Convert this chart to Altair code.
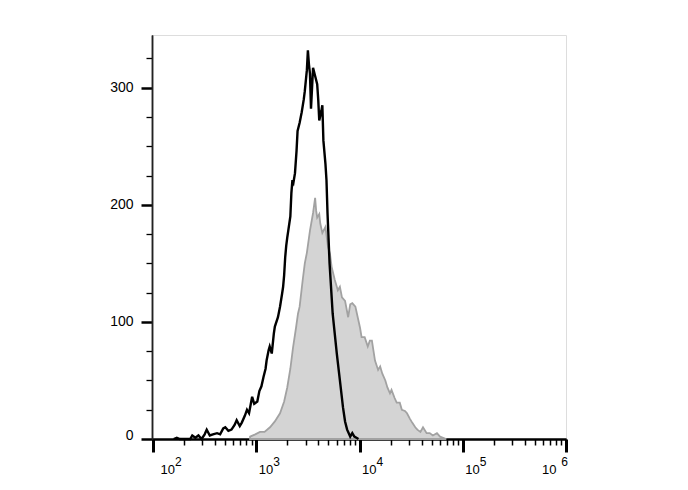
import altair as alt
import pandas as pd
import numpy as np

# Black (unfilled) histogram: x in log10(fluorescence) units, y = count
black_log = [2.20, 2.23, 2.26, 2.36, 2.38, 2.41, 2.44, 2.47, 2.50, 2.52, 2.55, 2.58, 2.62, 2.65,
             2.68, 2.70, 2.73, 2.76, 2.79, 2.81, 2.84, 2.86, 2.89, 2.91, 2.93, 2.96, 2.98, 3.01,
             3.03, 3.05, 3.07, 3.09, 3.10, 3.12, 3.13, 3.15, 3.17, 3.18, 3.21, 3.23, 3.25, 3.26,
             3.27, 3.28, 3.29, 3.30, 3.31, 3.33, 3.34, 3.35, 3.36, 3.375, 3.39, 3.40, 3.42, 3.44,
             3.46, 3.47, 3.49, 3.50, 3.51, 3.52, 3.53, 3.55, 3.57, 3.59, 3.60, 3.61, 3.63, 3.64,
             3.65, 3.67, 3.68, 3.69, 3.71, 3.74, 3.76, 3.78, 3.81, 3.84, 3.86, 3.88, 3.90, 3.91,
             3.93, 3.95, 3.97, 3.99]
black_count = [0, 1, 0, 0, 3, 1, 3, 0, 4, 8, 3, 4, 5, 4,
               9, 10, 7, 8, 12, 16, 11, 14, 20, 25, 22, 36, 30, 32,
               41, 45, 53, 60, 67, 76, 79, 73, 90, 96, 104, 113, 124, 130,
               140, 155, 165, 172, 178, 190, 210, 221, 219, 227, 246, 263, 270, 279,
               290, 297, 315, 332, 320, 312, 282, 317, 310, 303, 290, 272, 280, 285,
               255, 235, 221, 193, 150, 107, 90, 73, 50, 27, 15, 8, 4, 2,
               5, 2, 1, 0]

# Gray (filled) histogram
gray_log = [2.94, 2.99, 3.036, 3.08, 3.133, 3.18, 3.23, 3.27, 3.30, 3.33, 3.356, 3.385, 3.404,
            3.42, 3.45, 3.47, 3.49, 3.52, 3.55, 3.57, 3.58, 3.59, 3.61, 3.62, 3.64, 3.67, 3.695,
            3.714, 3.73, 3.76, 3.79, 3.81, 3.83, 3.86, 3.89, 3.91, 3.93, 3.96, 3.99, 4.005, 4.02,
            4.05, 4.08, 4.10, 4.12, 4.15, 4.18, 4.20, 4.22, 4.25, 4.27, 4.295, 4.31, 4.34, 4.36,
            4.39, 4.41, 4.44, 4.46, 4.49, 4.51, 4.54, 4.56, 4.59, 4.615, 4.65, 4.68, 4.71, 4.75,
            4.78, 4.81, 4.84]
gray_count = [2, 4, 6, 6, 10, 15, 22, 32, 44, 60, 78, 95, 107,
              113, 136, 150, 159, 178, 193, 206, 195, 189, 192, 184, 176, 181, 164,
              158, 147, 136, 127, 130, 121, 118, 104, 115, 116, 113, 101, 95, 87,
              87, 79, 84, 84, 67, 59, 62, 56, 50, 44, 39, 42, 35, 31,
              31, 25, 24, 22, 17, 14, 10, 8, 6, 10, 5, 5, 3, 5,
              2, 1, 0]

# Axis ticks and labels
major_x = [2, 3, 4, 5, 6]
exponents = ["2", "3", "4", "5", "6"]
minor_mult = [2, 3, 4, 5, 6, 7, 8, 9]
minor_x = [float(d + np.log10(m)) for d in range(2, 6) for m in minor_mult]
major_y = [0, 100, 200, 300]
minor_y = [v for v in range(25, 326, 25) if v % 100 != 0]

black_df = pd.DataFrame({"logx": black_log, "count": black_count})
gray_df = pd.DataFrame({"logx": gray_log, "count": gray_count})
exp_df = pd.DataFrame({"decade": major_x, "exp": exponents})

x_scale = alt.Scale(domain=[1.99, 6], nice=False, zero=False)
y_scale = alt.Scale(domain=[0, 345], nice=False)

FONT = "Liberation Sans"

x_major_axis = alt.Axis(
    orient="bottom",
    values=major_x,
    title=None,
    grid=False,
    domainColor="#000000",
    domainWidth=2,
    tickColor="#000000",
    tickSize=13,
    tickWidth=3,
    labelExpr="'10'",
    labelAlign={"condition": {"test": "datum.value > 5.5", "value": "right"}, "value": "left"},
    labelOffset={"condition": [{"test": "datum.value < 2.5", "value": 7},
                               {"test": "datum.value > 5.5", "value": -10}],
                 "value": 2},
    labelFont=FONT,
    labelFontSize=13,
    labelColor="#000000",
    labelPadding=11,
    labelOverlap=False,
    labelBound=False,
    labelFlush=False,
)

x_minor_axis = alt.Axis(
    orient="bottom",
    values=minor_x,
    title=None,
    grid=False,
    domainColor="#000000",
    domainWidth=2,
    tickColor="#000000",
    tickSize=6,
    tickWidth=1.5,
    labels=False,
)

y_major_axis = alt.Axis(
    orient="left",
    values=major_y,
    title=None,
    grid=False,
    domainColor="#222222",
    domainWidth=1.5,
    tickColor="#000000",
    tickSize=11,
    tickWidth=2.5,
    labelOffset={"condition": {"test": "datum.value === 0", "value": -4}, "value": 0},
    labelFont=FONT,
    labelFontSize=14,
    labelColor="#000000",
    labelPadding=8,
    labelOverlap=False,
    labelBound=False,
)

y_minor_axis = alt.Axis(
    orient="left",
    values=minor_y,
    title=None,
    grid=False,
    domainColor="#222222",
    domainWidth=1.5,
    tickColor="#000000",
    tickSize=6,
    tickWidth=1.3,
    labels=False,
)

gray = alt.Chart(gray_df).mark_area(
    fill="#d4d4d4", stroke="#a2a2a2", strokeWidth=1.8, interpolate="linear"
).encode(
    x=alt.X("logx:Q", scale=x_scale, axis=x_major_axis),
    y=alt.Y("count:Q", scale=y_scale, axis=y_major_axis),
)

black = alt.Chart(black_df).mark_line(
    color="#000000", strokeWidth=2.4, interpolate="linear"
).encode(
    x=alt.X("logx:Q", scale=x_scale, axis=x_minor_axis),
    y=alt.Y("count:Q", scale=y_scale, axis=y_minor_axis),
)

# superscript exponents of the decade labels
exps = alt.Chart(exp_df).mark_text(
    font=FONT,
    fontSize=12,
    color="#000000",
    baseline="alphabetic",
    align=alt.expr("datum.decade > 5.5 ? 'right' : 'left'"),
    dx=alt.expr("datum.decade > 5.5 ? 2 : (datum.decade < 2.5 ? 22 : 17)"),
).encode(
    x=alt.X("decade:Q", scale=x_scale, axis=None),
    y=alt.value(431),
    text="exp:N",
)

chart = alt.layer(gray, black, exps).resolve_axis(
    x="independent", y="independent"
).properties(
    width=414,
    height=404,
    autosize=alt.AutoSizeParams(type="none"),
    padding={"left": 144, "top": 27, "right": 100, "bottom": 40},
).configure_view(
    stroke="#444444", strokeWidth=1.2
).configure(background="#ffffff")

chart.save("out.html", embed_options={"renderer": "svg", "actions": False})
